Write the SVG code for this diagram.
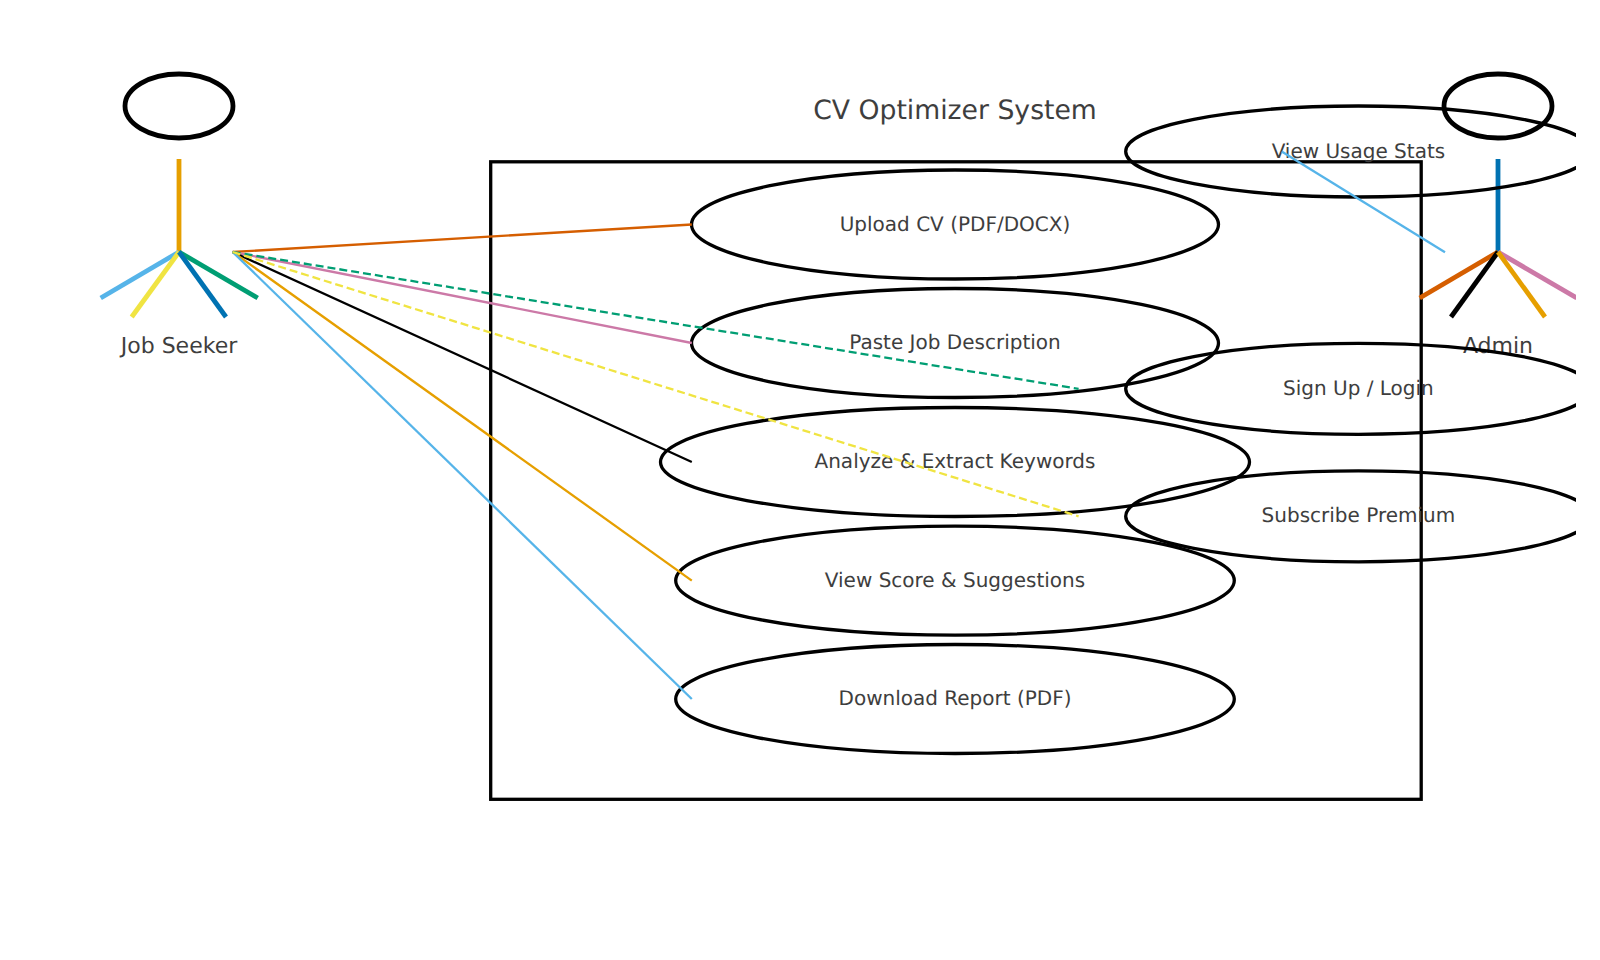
<svg xmlns="http://www.w3.org/2000/svg" width="1600" height="960" viewBox="0 0 1600 960">
<style>
text{font-family:"DejaVu Sans",sans-serif;fill:#3e3e3e;text-anchor:middle;text-rendering:geometricPrecision}
.uc{font-size:20px}
.actor{font-size:22px}
.title{font-size:26.67px}
.shape{fill:none;stroke:#000;stroke-width:3.3}
.head{fill:none;stroke:#000;stroke-width:4.8}
.limb{stroke-width:4.8;fill:none}
.link{stroke-width:2.3;fill:none}
.dash{stroke-dasharray:8 4}
.dash2{stroke-dasharray:8 3.94}
</style>
<defs><clipPath id="c"><rect x="0" y="0" width="1576" height="960"/></clipPath></defs>
<g clip-path="url(#c)">
<g id="system"><rect class="shape" x="490.700" y="161.800" width="930.500" height="637.500"/><text class="title" x="955" y="118.700">CV Optimizer System</text></g>
<g id="job-seeker">
<ellipse class="head" cx="179" cy="106" rx="54" ry="32"/>
<line class="limb" x1="179" y1="159" x2="179" y2="252" stroke="#E69F00"/>
<line class="limb" x1="179" y1="252" x2="100.700" y2="298" stroke="#56B4E9"/>
<line class="limb" x1="179" y1="252" x2="257.700" y2="298" stroke="#009E73"/>
<line class="limb" x1="179" y1="252" x2="131.700" y2="317" stroke="#F0E442"/>
<line class="limb" x1="179" y1="252" x2="226" y2="317" stroke="#0072B2"/>
<text class="actor" x="179" y="352.500">Job Seeker</text>
</g>
<g id="admin">
<ellipse class="head" cx="1498" cy="106" rx="54" ry="32"/>
<line class="limb" x1="1498" y1="159" x2="1498" y2="252" stroke="#0072B2"/>
<line class="limb" x1="1498" y1="252" x2="1419.700" y2="298" stroke="#D55E00"/>
<line class="limb" x1="1498" y1="252" x2="1576.700" y2="298" stroke="#CC79A7"/>
<line class="limb" x1="1498" y1="252" x2="1451" y2="317" stroke="#000000"/>
<line class="limb" x1="1498" y1="252" x2="1545" y2="317" stroke="#E69F00"/>
<text class="actor" x="1498" y="352.500">Admin</text>
</g>
<g id="uc-upload"><ellipse class="shape" cx="955" cy="224.500" rx="263.500" ry="54.500"/><text class="uc" x="955" y="230.800">Upload CV (PDF/DOCX)</text></g>
<g id="uc-paste"><ellipse class="shape" cx="955" cy="343" rx="263.500" ry="54.500"/><text class="uc" x="955" y="349.300">Paste Job Description</text></g>
<g id="uc-analyze"><ellipse class="shape" cx="955" cy="462" rx="294.500" ry="54.500"/><text class="uc" x="955" y="468">Analyze &amp; Extract Keywords</text></g>
<g id="uc-score"><ellipse class="shape" cx="955" cy="580.600" rx="279.300" ry="54.500"/><text class="uc" x="955" y="586.500">View Score &amp; Suggestions</text></g>
<g id="uc-download"><ellipse class="shape" cx="955" cy="699" rx="279.300" ry="54.500"/><text class="uc" x="955" y="705">Download Report (PDF)</text></g>
<g id="uc-stats"><ellipse class="shape" cx="1358.400" cy="151.500" rx="232.700" ry="45.500"/><text class="uc" x="1358.400" y="157.500">View Usage Stats</text></g>
<g id="uc-login"><ellipse class="shape" cx="1358.400" cy="388.800" rx="232.700" ry="45.500"/><text class="uc" x="1358.400" y="394.800">Sign Up / Login</text></g>
<g id="uc-subscribe"><ellipse class="shape" cx="1358.400" cy="516.300" rx="232.700" ry="45.500"/><text class="uc" x="1358.400" y="522.300">Subscribe Premium</text></g>
<g id="connectors">
<line class="link" x1="232.700" y1="252" x2="691.800" y2="224.500" stroke="#D55E00"/>
<line class="link" x1="232.700" y1="252" x2="691.800" y2="343" stroke="#CC79A7"/>
<line class="link" x1="232.700" y1="252" x2="691.800" y2="462" stroke="#000000"/>
<line class="link" x1="232.700" y1="252" x2="691.800" y2="580.600" stroke="#E69F00"/>
<line class="link" x1="232.700" y1="252" x2="691.800" y2="699" stroke="#56B4E9"/>
<line class="link dash" x1="232.700" y1="252" x2="1078.600" y2="388.800" stroke="#009E73"/>
<line class="link dash2" x1="232.700" y1="252" x2="1078.600" y2="516.300" stroke="#F0E442"/>
<line class="link" x1="1445" y1="252.300" x2="1281.700" y2="151.500" stroke="#56B4E9"/>
</g>
</g>
</svg>
